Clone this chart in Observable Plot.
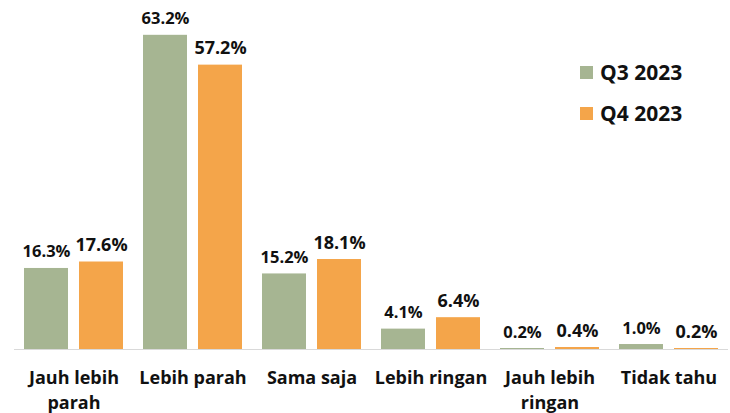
<!DOCTYPE html>
<html>
<head>
<meta charset="utf-8">
<script src="https://cdn.jsdelivr.net/npm/d3@7"></script>
<script src="https://cdn.jsdelivr.net/npm/@observablehq/plot@0.6"></script>
<style>
  body { margin: 0; background: #fff; }
  #wrap { position: relative; width: 730px; height: 413px; font-family: "Open Sans", sans-serif; }
  #legend { position: absolute; left: 580px; top: 59px; }
  .item { display: flex; align-items: center; height: 26px; margin-bottom: 15px; font-size: 21px; font-weight: 700; color: #111; }
  .sw { width: 13px; height: 13px; margin-right: 7px; }
</style>
</head>
<body>
<div id="wrap"><div id="legend"></div></div>
<script>
const categories = ["Jauh lebih parah", "Lebih parah", "Sama saja", "Lebih ringan", "Jauh lebih ringan", "Tidak tahu"];
const categoryLabels = ["Jauh lebih\nparah", "Lebih parah", "Sama saja", "Lebih ringan", "Jauh lebih\nringan", "Tidak tahu"];
const series = ["Q3 2023", "Q4 2023"];
const q3Values = [16.3, 63.2, 15.2, 4.1, 0.2, 1.0];
const q4Values = [17.6, 57.2, 18.1, 6.4, 0.4, 0.2];
const seriesColors = ["#a6b592", "#f4a54a"];

const data = categories.flatMap((c, i) => [
  {cat: c, series: series[0], value: q3Values[i]},
  {cat: c, series: series[1], value: q4Values[i]}
]);
const catData = categories.map((c, i) => ({cat: c, label: categoryLabels[i]}));

const chart = Plot.plot({
  width: 730,
  height: 413,
  marginLeft: 12,
  marginRight: 0,
  marginTop: 1,
  marginBottom: 64,
  style: {fontFamily: "'Open Sans', sans-serif", background: "white"},
  fx: {domain: categories, padding: 0, axis: null},
  x: {domain: series, padding: 0.2, paddingOuter: 0.17, axis: null},
  y: {domain: [0, 70], axis: null},
  color: {domain: series, range: seriesColors},
  marks: [
    Plot.barY(data, {fx: "cat", x: "series", y: "value", fill: "series"}),
    Plot.ruleY([0], {stroke: "#d9d9d9", strokeWidth: 1}),
    Plot.text(data, {
      fx: "cat", x: "series", y: "value",
      text: d => d.value.toFixed(1) + "%",
      lineAnchor: "bottom", dy: -11,
      fontSize: d => d.series === series[0] ? 16.5 : 18,
      fontWeight: 700, fill: "#111"
    }),
    Plot.text(catData, {fx: "cat", text: "label", frameAnchor: "bottom", lineAnchor: "top", dy: 17, fontSize: 18, fontWeight: 700, lineHeight: 1.39, fill: "#111"})
  ]
});
document.getElementById("wrap").prepend(chart);

const legend = document.getElementById("legend");
series.forEach((s, i) => {
  const item = document.createElement("div");
  item.className = "item";
  const sw = document.createElement("span");
  sw.className = "sw";
  sw.style.background = seriesColors[i];
  const t = document.createElement("span");
  t.textContent = s;
  item.append(sw, t);
  legend.append(item);
});
</script>
</body>
</html>
